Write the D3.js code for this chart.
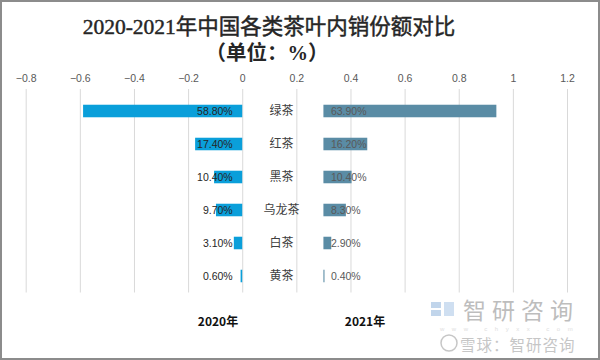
<!DOCTYPE html>
<html><head><meta charset="utf-8">
<script src="https://cdn.jsdelivr.net/npm/d3@7/dist/d3.min.js"></script>
<style>body{margin:0;background:#fff}svg{display:block}</style>
</head><body>
<svg id="c" width="600" height="360"></svg>
<script>
const categories = ["绿茶","红茶","黑茶","乌龙茶","白茶","黄茶"];
const values2020 = [0.588, 0.174, 0.104, 0.097, 0.031, 0.006];
const values2021 = [0.639, 0.162, 0.104, 0.083, 0.029, 0.004];
const tickValues = [-0.8,-0.6,-0.4,-0.2,0,0.2,0.4,0.6,0.8,1,1.2];
const seriesNames = ["2020年","2021年"];
const titleLine1 = "2020-2021年中国各类茶叶内销份额对比";
const titleLine2 = "（单位：%）";

const svg = d3.select("#c");
const W = 600, H = 360;
svg.append("rect").attr("x",1).attr("y",1).attr("width",W-2).attr("height",H-2)
  .attr("fill","#fff").attr("stroke","#8c8c8c").attr("stroke-width",2);

const x = d3.scaleLinear().domain([-0.8,1.2]).range([25.7,567]);
const x2 = d3.scaleLinear().domain([-1.1,0.9]).range([25.7,567]);
const y = d3.scaleBand().domain(categories).range([94.5,292.5]).paddingInner(0.62).paddingOuter(0.31);

// title
svg.append("text").attr("x",269).attr("y",34).attr("text-anchor","middle")
  .attr("font-family","'Liberation Serif','Noto Sans CJK SC',serif").attr("font-size",21.5)
  .attr("fill","#262626").attr("stroke","#262626").attr("stroke-width",0.45).text(titleLine1);
svg.append("text").attr("x",267).attr("y",60).attr("text-anchor","middle")
  .attr("font-family","'Liberation Serif','Noto Sans CJK SC',serif").attr("font-size",20.5)
  .attr("font-weight","bold").attr("fill","#262626").text(titleLine2);

// axis with gridlines
const ax = svg.append("g").attr("transform","translate(0,89)")
  .call(d3.axisTop(x).tickValues(tickValues).tickSize(-203.5).tickPadding(7)
    .tickFormat(d => d3.format("")(+d.toFixed(1))));
ax.select(".domain").remove();
ax.selectAll(".tick line").attr("stroke","#d9d9d9");
ax.selectAll(".tick text").attr("font-family","'Liberation Sans',Arial,sans-serif")
  .attr("font-size",10.5).attr("fill","#595959").attr("y",-7);

const fmt = v => (v*100).toFixed(2) + "%";

// 2020 bars
svg.append("g").selectAll("rect").data(categories).join("rect")
  .attr("x",(d,i)=>x(-values2020[i])).attr("y",d=>y(d))
  .attr("width",(d,i)=>x(0)-x(-values2020[i])).attr("height",y.bandwidth())
  .attr("fill","#0a9fda");
// 2021 bars
svg.append("g").selectAll("rect").data(categories).join("rect")
  .attr("x",x2(0)).attr("y",d=>y(d))
  .attr("width",(d,i)=>x2(values2021[i])-x2(0)).attr("height",y.bandwidth())
  .attr("fill","#5a8ca5");

// labels
svg.append("g").selectAll("text").data(categories).join("text")
  .attr("x",x(0)-9.5).attr("y",d=>y(d)+y.bandwidth()/2).attr("dy","0.36em")
  .attr("text-anchor","end").attr("font-family","'Liberation Sans',Arial,sans-serif")
  .attr("font-size",10.5).attr("fill","#262626").text((d,i)=>fmt(values2020[i]));
svg.append("g").selectAll("text").data(categories).join("text")
  .attr("x",x2(0)+7.5).attr("y",d=>y(d)+y.bandwidth()/2).attr("dy","0.36em")
  .attr("text-anchor","start").attr("font-family","'Liberation Sans',Arial,sans-serif")
  .attr("font-size",10.5).attr("fill","#595959").text((d,i)=>fmt(values2021[i]));

// category labels
svg.append("g").selectAll("text").data(categories).join("text")
  .attr("x",281.5).attr("y",d=>y(d)+y.bandwidth()/2).attr("dy","0.36em")
  .attr("text-anchor","middle").attr("font-family","'Noto Sans CJK SC',sans-serif")
  .attr("font-size",12).attr("fill","#404040").text(d=>d);

// series titles
[[218,seriesNames[0]],[365,seriesNames[1]]].forEach(([cx,t])=>{
  svg.append("text").attr("x",cx).attr("y",326).attr("text-anchor","middle")
    .attr("font-family","'Noto Sans CJK SC',sans-serif").attr("font-size",12)
    .attr("font-weight","bold").attr("fill","#111").text(t);
});

// watermark
const wm = svg.append("g").attr("opacity",0.55);
wm.append("rect").attr("x",431).attr("y",302).attr("width",10).attr("height",6).attr("fill","#8fb4dc");
wm.append("rect").attr("x",431).attr("y",310).attr("width",10).attr("height",6).attr("fill","#8fb4dc");
wm.append("rect").attr("x",444).attr("y",302).attr("width",10).attr("height",14).attr("fill","#a9c6e6");
wm.append("text").attr("x",463).attr("y",318.5).attr("font-family","'Noto Sans CJK SC',sans-serif")
  .attr("font-size",23).attr("letter-spacing",6).attr("fill","#888").text("智研咨询");
wm.append("text").attr("x",440).attr("y",331).attr("font-family","'Liberation Sans',sans-serif")
  .attr("font-size",6).attr("letter-spacing",7.5).attr("fill","#c4c4c4").text("www.chyxx.com");
wm.append("circle").attr("cx",449).attr("cy",343).attr("r",8).attr("fill","none").attr("stroke","#999").attr("stroke-width",1.5);
wm.append("text").attr("x",460).attr("y",350.5).attr("font-family","'Noto Sans CJK SC',sans-serif")
  .attr("font-size",15.5).attr("letter-spacing",1).attr("fill","#999").text("雪球：智研咨询");
</script>
</body></html>
